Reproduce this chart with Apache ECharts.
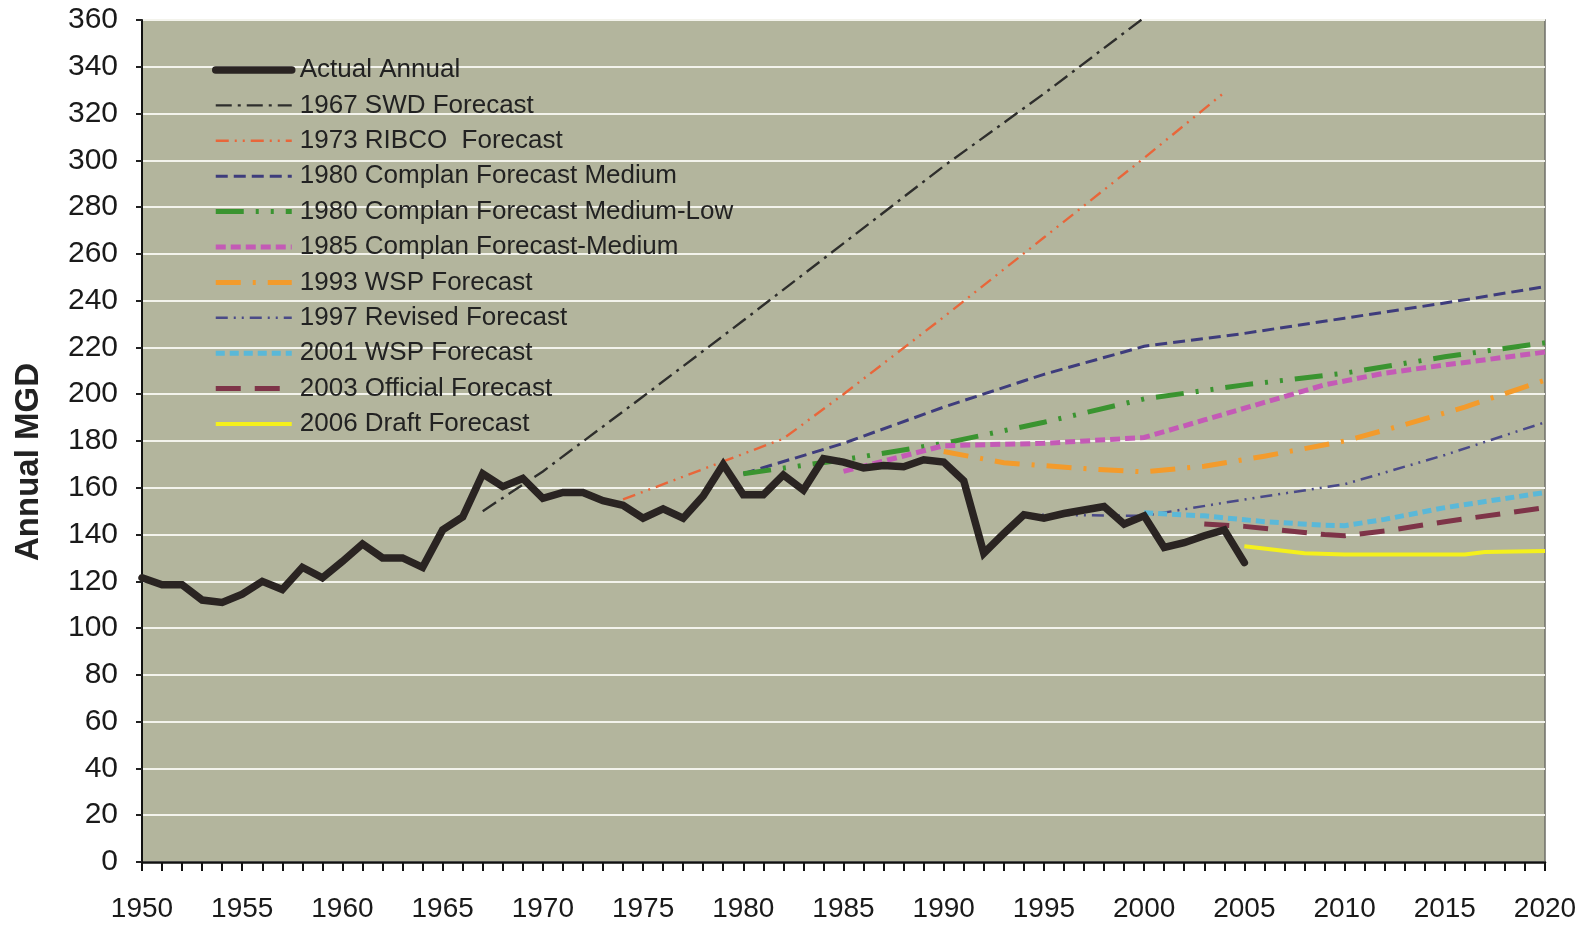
<!DOCTYPE html>
<html>
<head>
<meta charset="utf-8">
<title>Annual MGD: actual use and forecasts</title>
<script src="https://cdn.jsdelivr.net/npm/echarts@6/dist/echarts.min.js"></script>
<style>
  html, body { margin: 0; padding: 0; background: #ffffff; }
  #chart { width: 1587px; height: 927px; }
</style>
</head>
<body>
<div id="chart"></div>
<script>
// ---- Data (MGD by year) ----
const actualYears = [1950,1951,1952,1953,1954,1955,1956,1957,1958,1959,
  1960,1961,1962,1963,1964,1965,1966,1967,1968,1969,
  1970,1971,1972,1973,1974,1975,1976,1977,1978,1979,
  1980,1981,1982,1983,1984,1985,1986,1987,1988,1989,
  1990,1991,1992,1993,1994,1995,1996,1997,1998,1999,
  2000,2001,2002,2003,2004,2005];
const actualValues = [121.5,118.5,118.5,112,111,114.5,120,116.5,126,121.5,
  128.5,136,130,130,126,142,147.5,166,160.5,164,
  155.5,158,158,154.5,152.5,147,151,147,156.5,170,
  157,157,165.5,159,172.5,171,168.5,169.5,169,172,
  171,163,132,140.5,148.5,147,149,150.5,152,144.5,
  148,134.5,136.5,139.5,142,128];

const swd1967 = [[1967,150],[1970,167],[1975,199],[1980,231.5],[1985,264.5],[1990,297.5],[1995,328.5],[2000,361]];
const ribco1973 = [[1974,155],[1978,168],[1982,181],[1985,200],[1990,233],[1995,267],[2000,301],[2004,329]];
const complanMedium1980 = [[1980,166],[1985,179],[1990,194.5],[1995,208.5],[2000,220.5],[2005,226],[2010,232.5],[2015,239],[2020,246]];
const complanMedLow1980 = [[1980,166],[1985,172],[1990,179],[1995,188],[2000,198],[2005,204],[2010,209],[2015,216],[2020,222]];
const complanMedium1985 = [[1985,167],[1990,178],[1995,179],[2000,181.5],[2003,189],[2006,196.5],[2009,204],[2012,209],[2015,212.5],[2020,218]];
const wsp1993 = [[1990,175.5],[1993,170.7],[1997,168.2],[2000,166.8],[2003,169.2],[2006,173.5],[2010,180],[2013,187],[2016,194.5],[2020,206]];
const revised1997 = [[1994,148.5],[2000,148],[2005,155],[2010,161.5],[2015,174],[2020,188]];
const wsp2001 = [[2000,149.3],[2003,148],[2006,145.5],[2009,144],[2010,143.8],[2012,146.5],[2015,151.5],[2020,158]];
const official2003 = [[2003,144.5],[2005,143.5],[2009,140],[2010,139.5],[2012,141.5],[2015,145.5],[2020,151.5]];
const draft2006 = [[2005,135],[2008,132],[2010,131.5],[2015,131.5],[2016,131.5],[2017,132.5],[2020,133]];

const seriesNames = [
  'Actual Annual',
  '1967 SWD Forecast',
  '1973 RIBCO  Forecast',
  '1980 Complan Forecast Medium',
  '1980 Complan Forecast Medium-Low',
  '1985 Complan Forecast-Medium',
  '1993 WSP Forecast',
  '1997 Revised Forecast',
  '2001 WSP Forecast',
  '2003 Official Forecast',
  '2006 Draft Forecast'
];

const FONT = '"Liberation Sans", Arial, Helvetica, sans-serif';

const actualData = actualYears.map((y, i) => [y, actualValues[i]]);

function line(name, data, color, width, dash, z, cap) {
  return {
    name: name,
    type: 'line',
    data: data,
    symbol: 'none',
    showSymbol: false,
    z: z || 2,
    lineStyle: { color: color, width: width, type: dash || 'solid', cap: cap || 'butt', join: 'miter' },
    itemStyle: { color: color },
    emphasis: { disabled: true },
    animation: false
  };
}

const chart = echarts.init(document.getElementById('chart'), null, { renderer: 'canvas' });

chart.setOption({
  backgroundColor: '#ffffff',
  animation: false,
  grid: {
    left: 142, right: 42, top: 20, bottom: 65,
    show: true,
    backgroundColor: '#b3b59d',
    borderColor: '#6f6f68',
    borderWidth: 1.5
  },
  legend: {
    orient: 'vertical',
    left: 212,
    top: 57,
    padding: 0,
    itemWidth: 76,
    itemHeight: 14,
    itemGap: 9.4,
    data: seriesNames,
    itemStyle: { opacity: 0 },
    lineStyle: { width: 'inherit' },
    textStyle: { fontFamily: FONT, fontSize: 26, color: '#222222', lineHeight: 26, padding: [0, 0, 0, 3] },
    selectedMode: false
  },
  xAxis: {
    type: 'value',
    min: 1950, max: 2020, interval: 5,
    axisLine: { show: true, onZero: false, lineStyle: { color: '#111111', width: 2.5 } },
    axisTick: { show: true, inside: false, length: 9, lineStyle: { color: '#111111', width: 2 } },
    minorTick: { show: true, splitNumber: 5, length: 9, lineStyle: { color: '#111111', width: 2 } },
    axisLabel: { fontFamily: FONT, fontSize: 28, color: '#1a1a1a', margin: 33, formatter: v => String(v) },
    splitLine: { show: false },
    minorSplitLine: { show: false }
  },
  yAxis: {
    type: 'value',
    min: 0, max: 360, interval: 20,
    axisLine: { show: true, lineStyle: { color: '#111111', width: 2 } },
    axisTick: { show: true, inside: false, length: 6, lineStyle: { color: '#222222', width: 2 } },
    axisLabel: { fontFamily: FONT, fontSize: 30, color: '#1a1a1a', margin: 24 },
    splitLine: { show: true, lineStyle: { color: '#f3f3ec', width: 2.2 } }
  },
  graphic: [{
    type: 'text',
    x: 29, y: 462,
    rotation: Math.PI / 2,
    style: {
      text: 'Annual MGD',
      font: 'bold 33px ' + FONT,
      fill: '#222222',
      align: 'center',
      verticalAlign: 'middle'
    }
  }],
  series: [
    line(seriesNames[0], actualData, '#2a2422', 7.5, 'solid', 10, 'round'),
    line(seriesNames[1], swd1967, '#2e2e2c', 2.4, [16, 6, 3, 6], 3),
    line(seriesNames[2], ribco1973, '#e8663a', 2.4, [13, 6, 2, 6, 2, 6], 3),
    line(seriesNames[3], complanMedium1980, '#3e3c7c', 3, [12, 6], 3),
    line(seriesNames[4], complanMedLow1980, '#3a9430', 5, [28, 12, 3, 12, 3, 12], 4),
    line(seriesNames[5], complanMedium1985, '#c45ab6', 5, [10, 5], 5),
    line(seriesNames[6], wsp1993, '#f39b2c', 5, [25, 12, 3, 12], 4),
    line(seriesNames[7], revised1997, '#4a4a88', 2.5, [12, 6, 2, 6, 2, 6], 3),
    line(seriesNames[8], wsp2001, '#5ab8d8', 5, [9, 5], 4),
    line(seriesNames[9], official2003, '#7e3448', 5, [25, 14], 4),
    line(seriesNames[10], draft2006, '#f4f01c', 4, 'solid', 4)
  ]
});
</script>
</body>
</html>
